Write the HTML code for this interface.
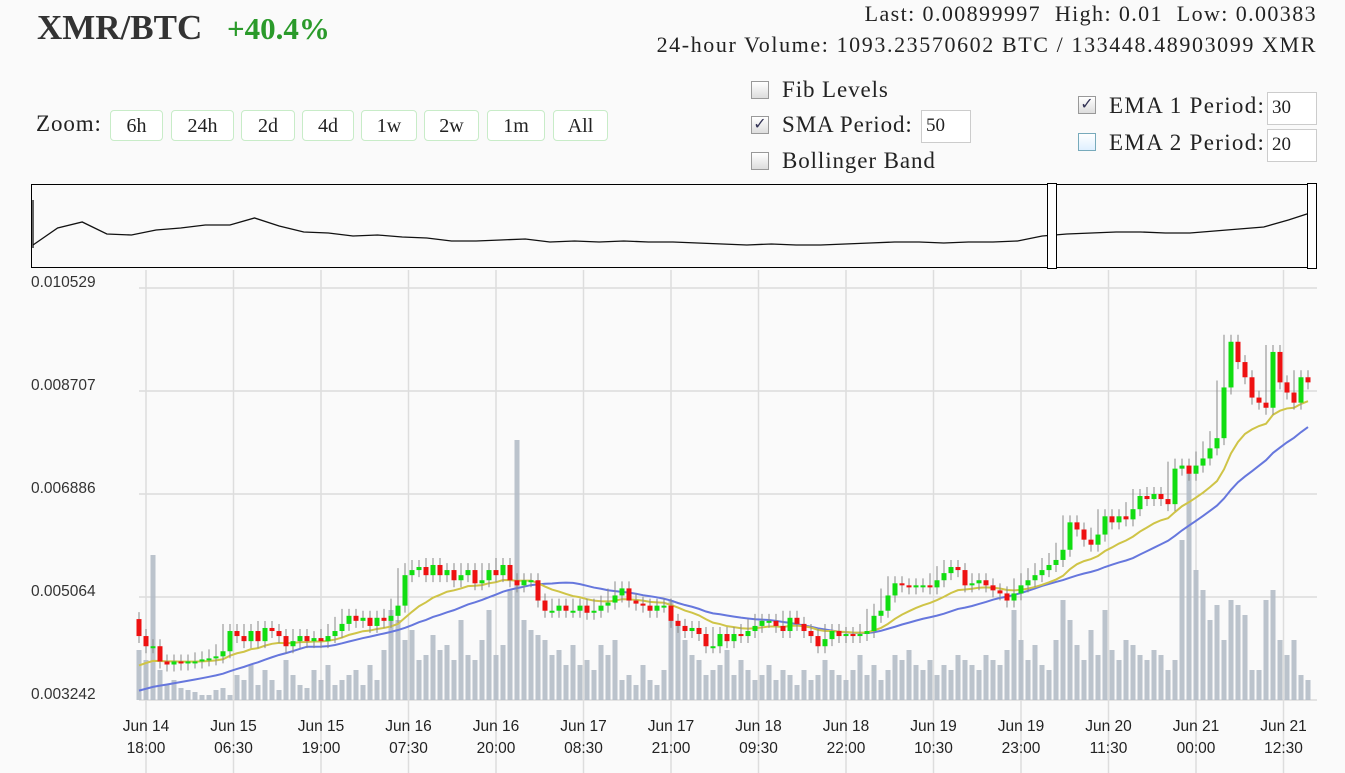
<!DOCTYPE html>
<html><head><meta charset="utf-8">
<style>
body{margin:0;width:1345px;height:773px;background:#fafafa;font-family:"Liberation Serif",serif;color:#222;position:relative;overflow:hidden}
.abs{position:absolute}
.btn{position:absolute;top:110px;height:31px;border:1px solid #c8ecc8;border-radius:4px;background:#fff;font-size:20px;line-height:31px;text-align:center;box-sizing:border-box}
.cb{position:absolute;width:18px;height:18px;border:1px solid #999;background:linear-gradient(#fff,#ddd);box-sizing:border-box;font-size:16px;line-height:16px;text-align:center;color:#335}
.lbl{position:absolute;font-size:23px;white-space:nowrap;letter-spacing:0.9px}
.inp{position:absolute;background:#fff;border:1px solid #ccc;font-size:19px;line-height:30px;padding-left:4px;box-sizing:border-box}
svg{position:absolute;left:0;top:0}
</style></head><body>
<div class="abs" style="left:37px;top:8px;font-size:35px;font-weight:bold;color:#333">XMR/BTC</div>
<div class="abs" style="left:227px;top:11px;font-size:31px;font-weight:bold;color:#2a9a2a">+40.4%</div>
<div class="abs" style="right:28px;top:1px;font-size:22px;text-align:right;letter-spacing:1.4px">Last: 0.00899997&nbsp; High: 0.01&nbsp; Low: 0.00383</div>
<div class="abs" style="right:28px;top:32px;font-size:22px;text-align:right;letter-spacing:1.6px">24-hour Volume: 1093.23570602 BTC / 133448.48903099 XMR</div>
<div class="lbl" style="left:36px;top:111px">Zoom:</div>
<div class="btn" style="left:110px;width:53px">6h</div>
<div class="btn" style="left:171px;width:63px">24h</div>
<div class="btn" style="left:241px;width:54px">2d</div>
<div class="btn" style="left:302px;width:52px">4d</div>
<div class="btn" style="left:361px;width:56px">1w</div>
<div class="btn" style="left:424px;width:55px">2w</div>
<div class="btn" style="left:487px;width:58px">1m</div>
<div class="btn" style="left:553px;width:55px">All</div>
<div class="cb" style="left:751px;top:81px"></div>
<div class="lbl" style="left:782px;top:77px">Fib Levels</div>
<div class="cb" style="left:751px;top:116px">✓</div>
<div class="lbl" style="left:782px;top:112px">SMA Period:</div>
<div class="inp" style="left:921px;top:110px;width:50px;height:33px">50</div>
<div class="cb" style="left:751px;top:152px"></div>
<div class="lbl" style="left:782px;top:148px">Bollinger Band</div>
<div class="cb" style="left:1078px;top:96px">✓</div>
<div class="lbl" style="left:1109px;top:93px;letter-spacing:1.3px">EMA 1 Period:</div>
<div class="inp" style="left:1267px;top:92px;width:50px;height:33px">30</div>
<div class="cb" style="left:1078px;top:133px;border-color:#7ab;background:linear-gradient(#fff,#dff0ff)"></div>
<div class="lbl" style="left:1109px;top:130px;letter-spacing:1.3px">EMA 2 Period:</div>
<div class="inp" style="left:1267px;top:129px;width:50px;height:33px">20</div>

<svg id="chart" width="1345" height="773" xmlns="http://www.w3.org/2000/svg"></svg>
<script>
const closes=[.004373,.004193,.004193,.003924,.003870,.003924,.003888,.003924,.003924,.003960,.003978,.004014,.004104,.004462,.004373,.004283,.004462,.004283,.004516,.004462,.004373,.004193,.004283,.004373,.004283,.004337,.004283,.004373,.004462,.004588,.004731,.004642,.004696,.004552,.004696,.004642,.004731,.004911,.005450,.005540,.005594,.005450,.005630,.005450,.005540,.005360,.005450,.005540,.005306,.005360,.005540,.005450,.005630,.005360,.005270,.005360,.005360,.005001,.004821,.004821,.004911,.004821,.004821,.004911,.004785,.004821,.004911,.004965,.005091,.005216,.005001,.004947,.004911,.004821,.004911,.004911,.004642,.004552,.004462,.004516,.004409,.004193,.004193,.004409,.004283,.004409,.004373,.004462,.004552,.004642,.004642,.004552,.004462,.004696,.004588,.004462,.004373,.004193,.004319,.004462,.004373,.004409,.004373,.004409,.004462,.004731,.004821,.005091,.005306,.005270,.005234,.005270,.005270,.005234,.005360,.005486,.005594,.005540,.005270,.005306,.005360,.005270,.005181,.005127,.005001,.005127,.005270,.005360,.005450,.005540,.005630,.005719,.005899,.006384,.006258,.006078,.005989,.006168,.006491,.006384,.006491,.006437,.006617,.006850,.006796,.006886,.006796,.006706,.007334,.007388,.007244,.007388,.007514,.007693,.007873,.008770,.009578,.009219,.008950,.008591,.008501,.008411,.009398,.008860,.008680,.008501,.008950,.008860];
const volumes=[50,40,145,30,15,20,12,10,8,5,5,10,12,5,25,20,35,15,30,20,10,40,25,15,12,30,20,35,15,20,25,30,15,35,20,50,90,80,60,70,40,45,65,50,55,40,80,45,40,60,90,45,55,110,260,80,70,65,60,45,50,35,55,35,40,30,55,45,60,20,25,15,35,20,15,30,100,75,60,45,40,25,30,35,50,25,40,30,20,25,35,20,30,25,15,30,20,25,40,30,25,20,30,45,25,35,20,30,45,40,50,35,30,40,25,35,30,45,40,35,30,45,40,35,50,90,60,40,55,35,30,60,100,80,55,40,70,45,90,50,40,60,55,45,40,50,45,30,40,160,230,130,110,80,95,60,100,95,85,30,30,100,110,60,45,60,25,20];
const yTicks=[0.010529,0.008707,0.006886,0.005064,0.003242];
const xTickHours=[1,13.5,26,38.5,51,63.5,76,88.5,101,113.5,126,138.5,151,163.5];
const xTickDates=["Jun 14","Jun 15","Jun 15","Jun 16","Jun 16","Jun 17","Jun 17","Jun 18","Jun 18","Jun 19","Jun 19","Jun 20","Jun 21","Jun 21"];
const xTickTimes=["18:00","06:30","19:00","07:30","20:00","08:30","21:00","09:30","22:00","10:30","23:00","11:30","00:00","12:30"];
const navValues=[.004619,.006438,.007080,.005796,.005689,.006224,.006438,.006759,.006759,.007508,.006652,.006010,.005903,.005582,.005689,.005475,.005368,.005047,.005047,.005154,.005261,.004940,.005047,.004940,.005047,.004940,.004940,.004833,.004726,.004619,.004726,.004619,.004619,.004726,.004833,.004940,.004940,.004833,.004940,.004940,.005047,.005582,.005796,.005903,.006010,.006010,.005903,.005903,.006117,.006331,.006545,.007294,.008150];
const smaSeed=0.003368, emaSeed=0.003780, smaPeriod=25, emaPeriod=15;

const NS="http://www.w3.org/2000/svg";
const svg=document.getElementById('chart');
function el(tag,attrs,parent){const e=document.createElementNS(NS,tag);for(const k in attrs)e.setAttribute(k,attrs[k]);(parent||svg).appendChild(e);return e;}
const yMax=0.010529,yMin=0.003242,yTop=288,yBot=700;
const yS=p=>yTop+(yMax-p)/(yMax-yMin)*(yBot-yTop);
const xS=h=>139+h*7;
const navX=i=>33+i*(1280/(navValues.length-1));
const navY=p=>262-(p-0.0028)/0.0077*72;

const nav=el('rect',{x:31.5,y:184.5,width:1285,height:83,fill:'#fafafa',stroke:'#000','stroke-width':1});


const nl=el('polyline',{points:navValues.map((v,i)=>navX(i)+','+navY(v)).join(' '),fill:'none',stroke:'#111','stroke-width':1.3});


el('line',{x1:33,y1:200,x2:33,y2:248,stroke:'#111','stroke-width':1.3});
[1047,1307].forEach((hx,k)=>{const h=el('rect',{x:hx+0.5,y:183.5,width:9,height:85,fill:'#fff',stroke:'#000'});

});

yTicks.forEach(t=>{const y=yS(t);
const g=el('line',{x1:139,y1:y,x2:1317,y2:y,stroke:'#ccc'});


const tx=el('text',{x:31,y:y-1,'font-family':'Liberation Sans, sans-serif','font-size':15.5,fill:'#333'});
tx.textContent=t.toFixed(6);

});
xTickHours.forEach((h,i)=>{const x=xS(h);
const g=el('line',{x1:x,y1:270,x2:x,y2:773,stroke:'#ddd','stroke-width':1.5});


const t1=el('text',{x:x,y:731,'text-anchor':'middle','font-family':'Liberation Sans, sans-serif','font-size':15.5,fill:'#222'});
t1.textContent=xTickDates[i];


const t2=el('text',{x:x,y:753,'text-anchor':'middle','font-family':'Liberation Sans, sans-serif','font-size':15.5,fill:'#222'});
t2.textContent=xTickTimes[i];

});

volumes.forEach((v,i)=>{const b=el('rect',{x:xS(i)-2.5,y:yBot-v,width:5,height:v,fill:'#b4bcc6',opacity:0.9});

});

const hist=[];for(let k=0;k<smaPeriod-1;k++)hist.push(smaSeed);
const all=hist.concat(closes);
const sma=closes.map((c,i)=>{let s=0;for(let k=0;k<smaPeriod;k++)s+=all[i+k];return s/smaPeriod;});
const a=2/(emaPeriod+1);let e=emaSeed;const ema=closes.map(c=>(e=e+a*(c-e)));
const sl=el('polyline',{points:sma.map((v,i)=>xS(i)+','+yS(v)).join(' '),fill:'none',stroke:'#6677dd','stroke-width':2});


const elx=el('polyline',{points:ema.map((v,i)=>xS(i)+','+yS(v)).join(' '),fill:'none',stroke:'#cfc447','stroke-width':2});



closes.forEach((c,i)=>{const o=i?closes[i-1]:c+0.0003;
const hi=Math.max(o,c,i<closes.length-1?closes[i+1]:c),lo=Math.min(o,c,i?closes[i-1]:c);
const x=xS(i);
const w=el('line',{x1:x,y1:yS(hi)-7,x2:x,y2:yS(lo)+7,stroke:'#888','stroke-width':1});


const top=yS(Math.max(o,c)),bh=Math.max(2,yS(Math.min(o,c))-top);
const r=el('rect',{x:x-2.5,y:top,width:5,height:bh,fill:c>=o?'#11dd11':'#ee1111'});

});
</script>
</body></html>
